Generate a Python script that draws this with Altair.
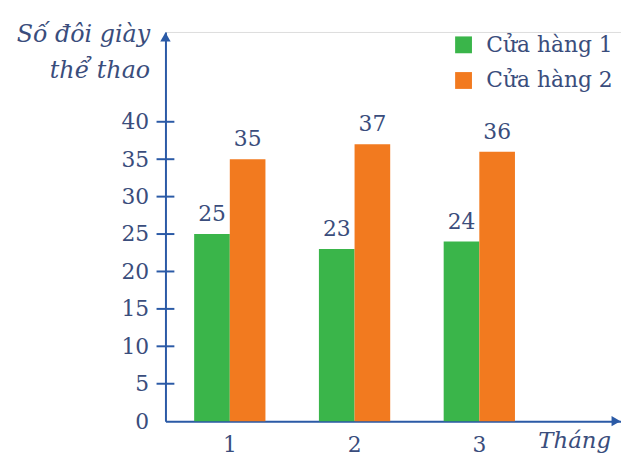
import altair as alt
import pandas as pd

months = ["1", "2", "3"]
stores = ["Cửa hàng 1", "Cửa hàng 2"]
store1 = [25, 23, 24]
store2 = [35, 37, 36]
y_ticks = [0, 5, 10, 15, 20, 25, 30, 35, 40]

rows = []
for m, a, b in zip(months, store1, store2):
    rows.append({"Tháng": m, "Cửa hàng": stores[0], "Số": a})
    rows.append({"Tháng": m, "Cửa hàng": stores[1], "Số": b})
df = pd.DataFrame(rows)
ticks_df = pd.DataFrame({"v": [t for t in y_ticks if t > 0]})

AXIS = "#2b5aa6"
TXT = "#3a4d7c"
FONT = "DejaVu Serif"
GREEN = "#3ab54a"
ORANGE = "#f27a1f"

yscale = alt.Scale(domain=[0, 52], nice=False, zero=True)
xscale = alt.Scale(paddingInner=0.4286, paddingOuter=0.54, align=0.213)

base = alt.Chart(df)

bars = base.mark_bar().encode(
    x=alt.X("Tháng:N", scale=xscale, sort=months,
            axis=alt.Axis(title="Tháng", labelAngle=0, domainColor=AXIS, domainWidth=2,
                          ticks=False, tickSize=0, labelPadding=14, labelFont=FONT,
                          labelFontSize=22, labelColor=TXT, titleFont=FONT,
                          titleFontStyle="italic", titleFontWeight="normal",
                          titleFontSize=23, titleColor=TXT, titleX=376, titleY=27,
                          titleAlign="left", titleBaseline="alphabetic")),
    xOffset=alt.XOffset("Cửa hàng:N", sort=stores),
    y=alt.Y("Số:Q", scale=yscale,
            axis=alt.Axis(values=y_ticks, grid=False, ticks=False, tickSize=0,
                          domainColor=AXIS, domainWidth=2, labelPadding=17,
                          labelFont=FONT, labelFontSize=22, labelColor=TXT,
                          title=["Số đôi giày", "thể thao"], titleAngle=0,
                          titleAlign="right", titleBaseline="alphabetic",
                          titleX=-16, titleY=10, titleLineHeight=36,
                          titleFont=FONT, titleFontStyle="italic",
                          titleFontWeight="normal", titleFontSize=24,
                          titleColor=TXT)),
    color=alt.Color("Cửa hàng:N", sort=stores,
                    scale=alt.Scale(domain=stores, range=[GREEN, ORANGE]),
                    legend=alt.Legend(title=None, orient="none", legendX=290,
                                      legendY=2, symbolType="square",
                                      symbolSize=289, symbolStrokeWidth=0,
                                      labelFont=FONT, labelFontSize=22,
                                      labelColor=TXT, labelOffset=12,
                                      rowPadding=14, padding=0)),
)

labels = base.mark_text(baseline="alphabetic", dy=-13, font=FONT, fontSize=22,
                        color=TXT).encode(
    x=alt.X("Tháng:N", sort=months),
    xOffset=alt.XOffset("Cửa hàng:N", sort=stores),
    y=alt.Y("Số:Q"),
    text=alt.Text("Số:Q"),
)

tick_marks = alt.Chart(ticks_df).mark_rule(color=AXIS, strokeWidth=2).encode(
    y=alt.Y("v:Q"),
    x=alt.value(-9),
    x2=alt.value(9),
)

arrow_df = pd.DataFrame({"a": [0]})
arrow_up = alt.Chart(arrow_df).mark_point(shape="triangle-up", filled=True,
                                          color=AXIS, size=110, opacity=1).encode(
    x=alt.value(0), y=alt.value(5))
arrow_right = alt.Chart(arrow_df).mark_point(shape="triangle-right", filled=True,
                                             color=AXIS, size=110, opacity=1).encode(
    x=alt.value(455), y=alt.value(393))

chart = alt.layer(bars, labels, tick_marks, arrow_up, arrow_right).properties(
    width=460, height=393,
    autosize=alt.AutoSizeParams(type="none"),
    padding={"left": 159, "top": 22, "right": 0, "bottom": 35},
).configure_view(stroke=None).configure(background="white", font=FONT)

chart.save("out.html", embed_options={"renderer": "svg", "actions": False})
